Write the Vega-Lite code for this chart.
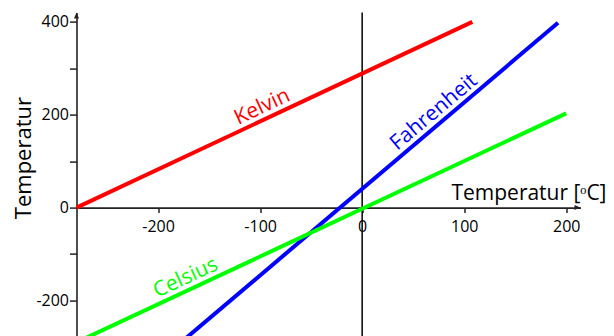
{
  "$schema": "https://vega.github.io/schema/vega-lite/v6.json",
  "width": 504,
  "height": 325,
  "autosize": {"type": "none"},
  "padding": {"left": 76.5, "top": 12.6, "right": 33.5, "bottom": 0},
  "background": "#ffffff",
  "config": {
    "view": {"stroke": null},
    "font": "Open Sans",
    "axis": {
      "domainColor": "#222222",
      "domainWidth": 1.6,
      "tickColor": "#222222",
      "tickWidth": 1.5,
      "labelColor": "#000000",
      "labelFont": "Open Sans",
      "labelFontSize": 16,
      "titleFont": "Open Sans",
      "titleFontSize": 21,
      "titleFontWeight": "normal",
      "titleColor": "#000000",
      "grid": false
    }
  },
  "datasets": {
    "lines": [
      {"scale": "Kelvin", "C": -280, "T": 0},
      {"scale": "Kelvin", "C": 108, "T": 400},
      {"scale": "Fahrenheit", "C": -172, "T": -280},
      {"scale": "Fahrenheit", "C": 192, "T": 398},
      {"scale": "Celsius", "C": -270, "T": -280},
      {"scale": "Celsius", "C": 200, "T": 203}
    ],
    "labels": [
      {"scale": "Kelvin", "C": -93, "T": 193},
      {"scale": "Fahrenheit", "C": 78, "T": 185.6},
      {"scale": "Celsius", "C": -168, "T": -175}
    ],
    "zero": [{"C": 0, "T": -280, "T2": 420}],
    "arrows": [
      {"C": -280, "T": 420, "dir": "up"},
      {"C": 214, "T": 0, "dir": "right"}
    ]
  },
  "encoding": {
    "x": {
      "field": "C",
      "type": "quantitative",
      "scale": {"domain": [-280, 214], "nice": false, "zero": false},
      "axis": {
        "orient": "bottom",
        "offset": {"expr": "scale('y', 0) - height"},
        "values": [-200, -100, 0, 100, 200],
        "tickSize": 5,
        "labelPadding": 6,
        "labelExpr": "'' + datum.value",
        "labelFlush": false,
        "labelOverlap": false,
        "title": "Temperatur [ᵒC]",
        "titleX": 529.5,
        "titleY": -7.6,
        "titleAlign": "right",
        "titleBaseline": "alphabetic"
      }
    },
    "y": {
      "field": "T",
      "type": "quantitative",
      "scale": {"domain": [-280, 420], "nice": false, "zero": false},
      "axis": {
        "orient": "left",
        "values": [-200, -100, 0, 100, 200, 300, 400],
        "tickSize": 7,
        "labelPadding": 1,
        "labelExpr": "datum.value % 200 === 0 ? '' + datum.value : ''",
        "labelOverlap": false,
        "title": "Temperatur",
        "titleFontSize": 22,
        "titleAngle": 270,
        "titleX": -46,
        "titleY": 145,
        "titleAlign": "center",
        "titleBaseline": "alphabetic"
      }
    }
  },
  "layer": [
    {
      "data": {"name": "zero"},
      "mark": {"type": "rule", "color": "#111111", "strokeWidth": 1.6},
      "encoding": {"y2": {"field": "T2"}}
    },
    {
      "data": {"name": "lines"},
      "mark": {"type": "line", "strokeWidth": 4, "strokeCap": "butt"},
      "encoding": {
        "color": {
          "field": "scale",
          "type": "nominal",
          "scale": {"domain": ["Kelvin", "Fahrenheit", "Celsius"], "range": ["#ff0000", "#0000ff", "#00ff00"]},
          "legend": null
        },
        "detail": {"field": "scale"}
      }
    },
    {
      "data": {"name": "labels"},
      "mark": {"type": "text", "font": "Open Sans", "fontSize": 21, "align": "center", "baseline": "alphabetic", "dy": -6},
      "encoding": {
        "text": {"field": "scale"},
        "angle": {"condition": {"test": "datum.scale === 'Fahrenheit'", "value": 320}, "value": 335},
        "color": {
          "field": "scale",
          "type": "nominal",
          "scale": {"domain": ["Kelvin", "Fahrenheit", "Celsius"], "range": ["#ff0000", "#0000ff", "#00ff00"]},
          "legend": null
        }
      }
    },
    {
      "data": {"name": "arrows"},
      "mark": {"type": "point", "filled": true, "size": 144, "color": "#222222", "opacity": 1},
      "encoding": {
        "shape": {"condition": {"test": "datum.dir === 'up'", "value": "M0,0L0.42,1L-0.42,1Z"}, "value": "M0,0L-1,-0.42L-1,0.42Z"}
      }
    }
  ]
}
